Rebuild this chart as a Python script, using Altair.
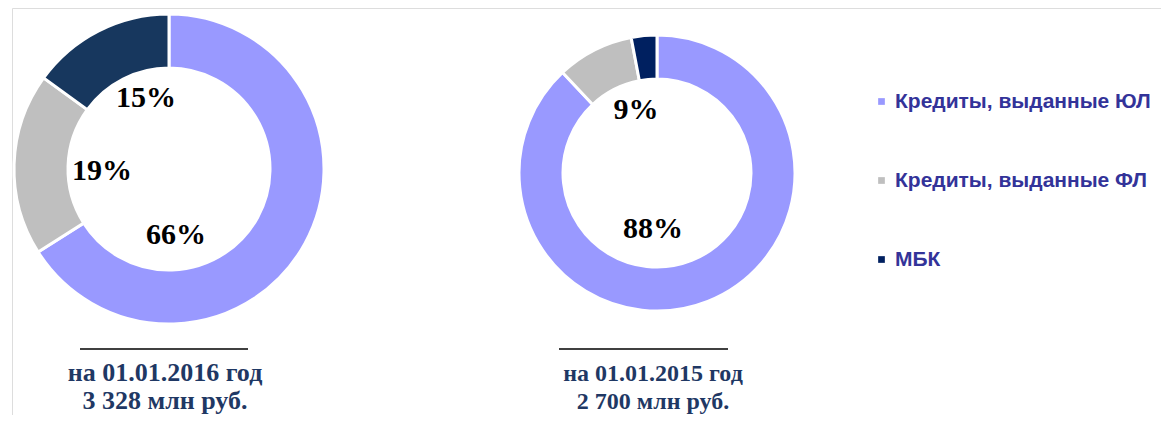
import altair as alt
import pandas as pd

# ---- data ----
categories = ["Кредиты, выданные ЮЛ", "Кредиты, выданные ФЛ", "МБК"]
share_2016 = [66, 19, 15]
share_2015 = [88, 9, 3]
labels_2016 = ["66%", "19%", "15%"]
labels_2015 = ["88%", "9%"]
titles_2016 = ["на 01.01.2016 год", "3 328 млн руб."]
titles_2015 = ["на 01.01.2015 год", "2 700 млн руб."]

# ---- styles ----
colors_2016 = ["#9999FF", "#BFBFBF", "#17375E"]
colors_2015 = ["#9999FF", "#BFBFBF", "#002060"]
OFF = 8
c1 = (165 - OFF, 169 - OFF)
c2 = (653 - OFF, 173 - OFF)
pos_lab_2016 = [(172, 235), (98, 171), (142, 98)]
pos_lab_2015 = [(649, 229), (632, 110)]

df16 = pd.DataFrame({"cat": categories, "share": share_2016, "idx": [0, 1, 2]})
df15 = pd.DataFrame({"cat": categories, "share": share_2015, "idx": [0, 1, 2]})

legend = alt.Legend(
    title=None, orient="none", legendX=859, legendY=83,
    symbolType="square", symbolSize=45, symbolStrokeWidth=0,
    labelFont="Liberation Sans", labelFontWeight="bold",
    labelFontSize=21, labelColor="#333399", labelLimit=0,
    labelOffset=3, rowPadding=57, padding=0,
)

donut_legend = alt.Chart(df15).mark_arc(
    innerRadius=100, outerRadius=155, opacity=0
).encode(
    theta=alt.Theta("share:Q", stack=True),
    color=alt.Color("cat:N", scale=alt.Scale(domain=categories, range=colors_2015), legend=legend),
    order=alt.Order("idx:Q"),
    x=alt.value(c2[0]), y=alt.value(c2[1]),
)

donut1 = alt.Chart(df16).mark_arc(
    innerRadius=101, outerRadius=155, stroke="white", strokeWidth=3
).encode(
    theta=alt.Theta("share:Q", stack=True),
    color=alt.Color("cat:N", scale=alt.Scale(domain=categories, range=colors_2016), legend=None),
    order=alt.Order("idx:Q"),
    x=alt.value(c1[0]), y=alt.value(c1[1]),
)

donut2 = alt.Chart(df15).mark_arc(
    innerRadius=94, outerRadius=138, stroke="white", strokeWidth=3
).encode(
    theta=alt.Theta("share:Q", stack=True),
    color=alt.Color("cat:N", scale=alt.Scale(domain=categories, range=colors_2015), legend=None),
    order=alt.Order("idx:Q"),
    x=alt.value(c2[0]), y=alt.value(c2[1]),
)

layers = [donut_legend, donut1, donut2]

for labels, positions in [(labels_2016, pos_lab_2016), (labels_2015, pos_lab_2015)]:
    for txt, (px, py) in zip(labels, positions):
        layers.append(
            alt.Chart(pd.DataFrame({"t": [txt]})).mark_text(
                font="Liberation Serif", fontWeight="bold", fontSize=30,
                color="black", align="center", baseline="middle",
            ).encode(text="t:N", x=alt.value(px - OFF), y=alt.value(py - OFF))
        )

one = pd.DataFrame({"a": [0]})
for (xa, xb) in [(76, 244), (555, 724)]:
    layers.append(
        alt.Chart(one).mark_rule(color="black", strokeWidth=1.5).encode(
            x=alt.value(xa - OFF), x2=alt.value(xb - OFF), y=alt.value(349 - OFF)
        )
    )

for titles, cx, fs in [(titles_2016, 161, 26), (titles_2015, 649, 24)]:
    for txt, by in zip(titles, [381, 409]):
        layers.append(
            alt.Chart(pd.DataFrame({"t": [txt]})).mark_text(
                font="Liberation Serif", fontWeight="bold", fontSize=fs,
                color="#1F3864", align="center", baseline="alphabetic",
            ).encode(text="t:N", x=alt.value(cx - OFF), y=alt.value(by - OFF))
        )

chart = alt.layer(*layers).resolve_scale(
    theta="independent", color="independent"
).properties(
    width=1153, height=407, padding=0,
    autosize=alt.AutoSizeParams(type="fit", contains="padding"),
).configure_view(strokeWidth=0).configure(background="white")

chart.save("out.html", embed_options={"renderer": "svg", "actions": False})
